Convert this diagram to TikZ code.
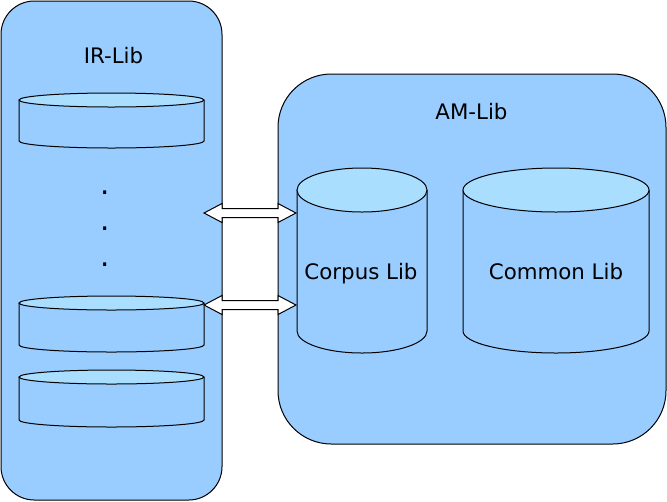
\documentclass[tikz,border=0pt]{standalone}
\usepackage{fontspec}
\setmainfont{DejaVu Sans}
\usetikzlibrary{calc}

\definecolor{libblue}{RGB}{153,204,255}
\definecolor{lidblue}{RGB}{170,222,255}

\tikzset{
  libbox/.style={draw=black,fill=libblue,line width=0.75pt},
  libline/.style={draw=black,line width=0.75pt},
  liblid/.style={draw=black,fill=lidblue,line width=0.75pt},
  libtext/.style={font=\fontsize{16}{19}\selectfont,inner sep=0pt,anchor=base},
  libdot/.style={font=\fontsize{22}{26}\selectfont,inner sep=0pt,anchor=base},
  linkarrow/.style={draw=black,fill=white,line width=0.75pt,line join=miter}
}

% drum: left x, right x, top y, bottom y, x radius, y radius
\newcommand{\libdrum}[6]{%
  \draw[libline] (#1,#3) -- (#1,#4)
    arc[start angle=180,end angle=360,x radius=#5,y radius=#6] -- (#2,#3);
  \draw[liblid] ($(#1,#3)!0.5!(#2,#3)$) ellipse [x radius=#5,y radius=#6];
}

% double block arrow between two named points
\newcommand{\libarrow}[2]{%
  \draw[linkarrow] (#1) -- ($(#1)+(18,-9.5)$) -- ($(#1)+(18,-4.5)$)
    -- ($(#2)+(-18,-4.5)$) -- ($(#2)+(-18,-9.5)$) -- (#2)
    -- ($(#2)+(-18,9.5)$) -- ($(#2)+(-18,4.5)$)
    -- ($(#1)+(18,4.5)$) -- ($(#1)+(18,9.5)$) -- cycle;
}

\begin{document}
\begin{tikzpicture}[x=0.75pt,y=-0.75pt]
  \useasboundingbox (0,0) rectangle (667,501);

  % the two libraries
  \draw[libbox,rounded corners=25pt] (1,1) rectangle (222,500);
  \draw[libbox,rounded corners=40pt] (278,74) rectangle (666,444);

  % drums
  \libdrum{19}{204}{100}{141}{69.375pt}{5.25pt}
  \libdrum{19}{204}{303}{345}{69.375pt}{5.25pt}
  \libdrum{19}{204}{377}{420}{69.375pt}{5.25pt}
  \libdrum{297}{427}{190}{331}{48.75pt}{16.5pt}
  \libdrum{463}{649}{190}{331}{69.75pt}{16.5pt}

  % labels
  \node[libtext] (irlib) at (113.5,63) {IR-Lib};
  \node[libtext] (amlib) at (471.5,119) {AM-Lib};
  \node[libtext] (corpus) at (361,279) {Corpus Lib};
  \node[libtext] (common) at (556,279) {Common Lib};
  \foreach \y/\n in {194/1,230/2,266/3}
    \node[libdot] (dot\n) at (105.5,\y) {.};

  % links
  \coordinate (ir1) at (204,213);
  \coordinate (co1) at (296,213);
  \coordinate (ir2) at (204,305);
  \coordinate (co2) at (296,305);
  \libarrow{ir1}{co1}
  \libarrow{ir2}{co2}
\end{tikzpicture}
\end{document}
